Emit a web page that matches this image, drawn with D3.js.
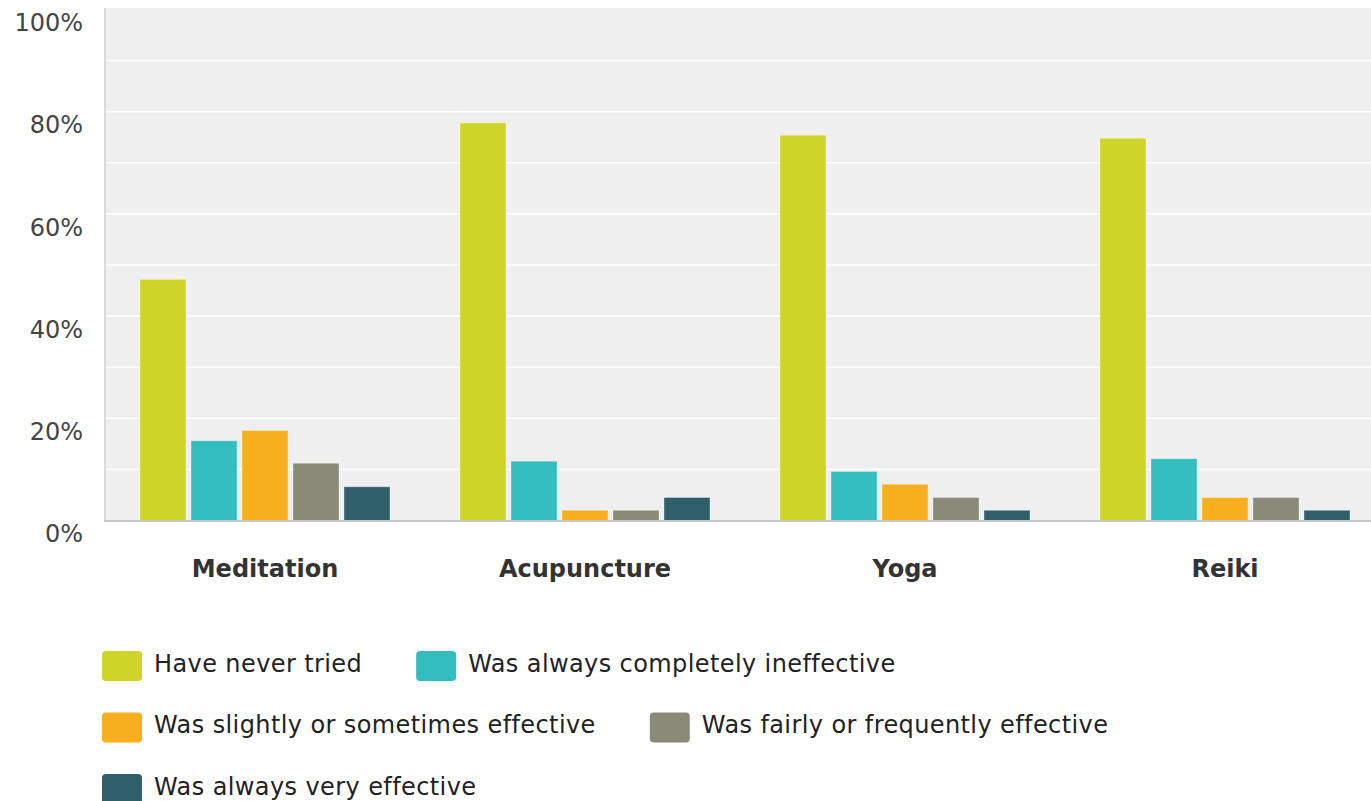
<!DOCTYPE html>
<html>
<head>
<meta charset="utf-8">
<script src="https://cdn.jsdelivr.net/npm/d3@7"></script>
<style>
  html, body { margin: 0; padding: 0; background: #fff; }
  svg { display: block; }
</style>
</head>
<body>
<svg id="chart" width="1371" height="801"></svg>
<script>
// ---- data ----
const categories = ["Meditation", "Acupuncture", "Yoga", "Reiki"];
const seriesNames = [
  "Have never tried",
  "Was always completely ineffective",
  "Was slightly or sometimes effective",
  "Was fairly or frequently effective",
  "Was always very effective"
];
const neverTried       = [47.2, 77.8, 75.4, 74.8];
const alwaysIneffective = [15.6, 11.6, 9.6, 12.1];
const slightlyEffective = [17.6, 2.0, 7.1, 4.5];
const fairlyEffective   = [11.2, 2.0, 4.5, 4.5];
const veryEffective     = [6.6, 4.5, 2.0, 2.0];
const seriesValues = [neverTried, alwaysIneffective, slightlyEffective, fairlyEffective, veryEffective];
const colors = ["#cfd527", "#33bdbf", "#f7ae1f", "#8a8a79", "#2e5f6b"];
const yTicks = [0, 20, 40, 60, 80, 100];
const yGrid = [10, 20, 30, 40, 50, 60, 70, 80, 90];

// ---- layout ----
const svg = d3.select("#chart");
const W = 1371;
const plotLeft = 105, plotRight = 1385;
const font = "'DejaVu Sans', sans-serif";

const x0 = d3.scaleBand().domain(categories).range([plotLeft, plotRight]).paddingInner(0).paddingOuter(0);
const x1 = d3.scaleBand().domain(d3.range(seriesNames.length)).range([35, 285]).paddingInner(5 / 51).paddingOuter(0);
const y = d3.scaleLinear().domain([0, 100]).range([520.5, 9.5]);

// background
svg.append("rect")
  .attr("x", plotLeft).attr("y", y(100) - 1.5)
  .attr("width", W - plotLeft).attr("height", y(0) - y(100) + 1.5)
  .attr("fill", "#efefef");

// gridlines
svg.append("g").selectAll("line").data(yGrid).join("line")
  .attr("x1", plotLeft).attr("x2", W)
  .attr("y1", d => y(d)).attr("y2", d => y(d))
  .attr("stroke", "#ffffff").attr("stroke-width", 1.6);

// y axis line
svg.append("line")
  .attr("x1", plotLeft).attr("x2", plotLeft)
  .attr("y1", y(100) - 1.5).attr("y2", y(0) + 1)
  .attr("stroke", "#dadada").attr("stroke-width", 2);

// bars
const groups = svg.append("g").selectAll("g").data(categories).join("g")
  .attr("transform", d => `translate(${x0(d)},0)`);
groups.selectAll("rect").data((c, ci) => seriesValues.map((vals, si) => ({ si, v: vals[ci] })))
  .join("rect")
  .attr("x", d => x1(d.si))
  .attr("width", x1.bandwidth())
  .attr("y", d => y(d.v))
  .attr("height", d => y(0) - y(d.v))
  .attr("fill", d => colors[d.si])
  .attr("stroke", "rgba(255,255,255,0.35)")
  .attr("stroke-width", 1);

// x axis baseline
svg.append("line")
  .attr("x1", plotLeft - 1).attr("x2", W)
  .attr("y1", y(0) + 0.5).attr("y2", y(0) + 0.5)
  .attr("stroke", "#c6c6c6").attr("stroke-width", 2);

// y tick labels
svg.append("g").selectAll("text").data(yTicks).join("text")
  .attr("x", 83)
  .attr("y", d => y(d) + 13)
  .attr("dy", "0.36em")
  .attr("text-anchor", "end")
  .attr("font-family", font)
  .attr("font-size", 24)
  .attr("fill", "#444")
  .text(d => d + "%");

// category labels
svg.append("g").selectAll("text").data(categories).join("text")
  .attr("x", d => x0(d) + (x1.range()[0] + x1.range()[1]) / 2)
  .attr("y", 577)
  .attr("text-anchor", "middle")
  .attr("font-family", font)
  .attr("font-size", 24)
  .attr("font-weight", "bold")
  .attr("fill", "#333")
  .text(d => d);

// legend (flow layout)
const legend = svg.append("g");
const legStartX = 102, legStartY = 651, rowH = 61.5, swW = 40, swH = 30, textOff = 52, itemGap = 54, maxX = 1300;
let cx = legStartX, cy = legStartY;
seriesNames.forEach((name, i) => {
  const g = legend.append("g");
  const t = g.append("text")
    .attr("x", textOff).attr("y", swH / 2 - 3)
    .attr("dy", "0.36em")
    .attr("font-family", font)
    .attr("font-size", 24)
    .attr("letter-spacing", 0.4)
    .attr("fill", "#222")
    .text(name);
  const tw = t.node().getComputedTextLength();
  const itemW = textOff + tw;
  if (cx > legStartX && cx + itemW > maxX) { cx = legStartX; cy += rowH; }
  g.insert("rect", "text")
    .attr("x", 0).attr("y", 0)
    .attr("width", swW).attr("height", swH)
    .attr("rx", 4).attr("ry", 4)
    .attr("fill", colors[i]);
  g.attr("transform", `translate(${cx},${cy})`);
  cx += itemW + itemGap;
});
</script>
</body>
</html>
